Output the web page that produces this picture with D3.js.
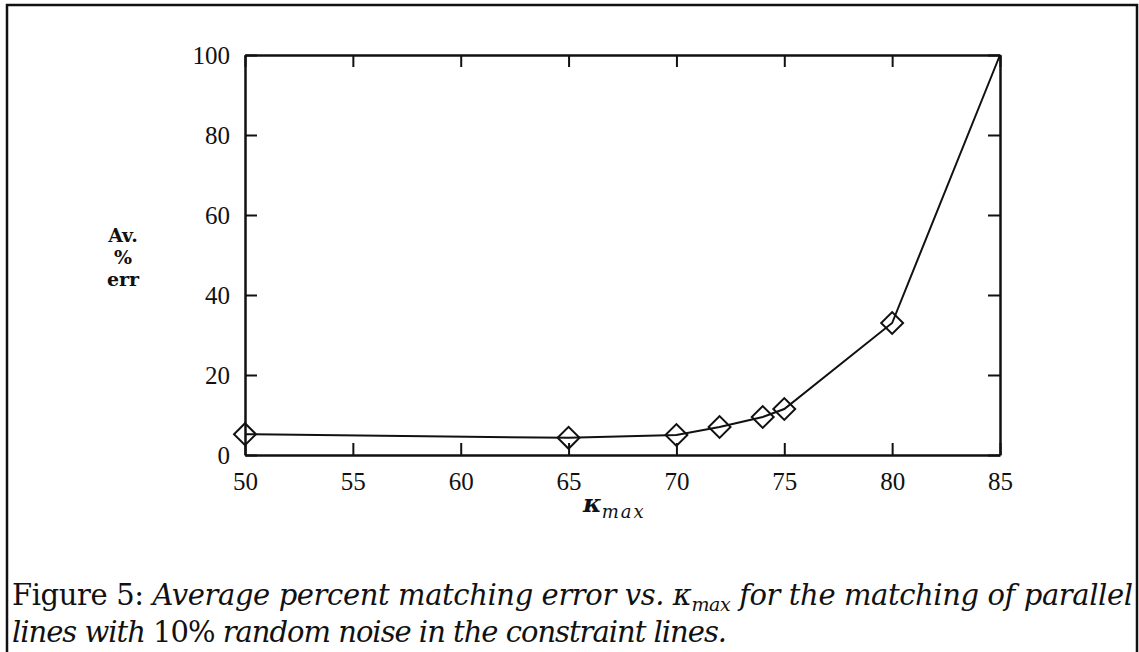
<!DOCTYPE html>
<html>
<head>
<meta charset="utf-8">
<script src="https://cdn.jsdelivr.net/npm/d3@7"></script>
<style>
  body { margin: 0; background: #fff; }
  text { font-family: "DejaVu Serif", "Liberation Serif", serif; fill: #111; }
</style>
</head>
<body>
<div id="visual"></div>
<script>
// kappa_max values and average % matching error
var kappa = [50, 65, 70, 72, 74, 75, 80, 85];
var avgErr = [5.2, 4.3, 5.0, 7.0, 9.5, 11.5, 33.0, 100];
var xTicks = [50, 55, 60, 65, 70, 75, 80, 85];
var yTicks = [0, 20, 40, 60, 80, 100];

var W = 1139, H = 652;
var margin = { top: 55, right: 139, bottom: 197, left: 245 },
    width = W - margin.left - margin.right,
    height = H - margin.top - margin.bottom;

var root = d3.select("#visual").append("svg")
    .attr("width", W)
    .attr("height", H);

// page frame
root.append("path")
    .attr("d", "M7,652 L7,5 L1137,5 L1137,652")
    .attr("fill", "none")
    .attr("stroke", "#111")
    .attr("stroke-width", 2.5);

var svg = root.append("g")
    .attr("transform", "translate(" + margin.left + "," + margin.top + ")");

var x = d3.scaleLinear().domain([50, 85]).range([0, width]);
var y = d3.scaleLinear().domain([0, 100]).range([height, 0]);

var tick = 12;

// axes: labels on bottom/left, inward ticks on all four sides
svg.append("g")
    .attr("transform", "translate(0," + height + ")")
    .call(d3.axisBottom(x).tickValues(xTicks).tickSizeInner(-tick).tickSizeOuter(0).tickPadding(17));
svg.append("g")
    .call(d3.axisTop(x).tickValues(xTicks).tickSizeInner(-tick).tickSizeOuter(0).tickFormat(""));
svg.append("g")
    .call(d3.axisLeft(y).tickValues(yTicks).tickSizeInner(-tick).tickSizeOuter(0).tickPadding(15));
svg.append("g")
    .attr("transform", "translate(" + width + ",0)")
    .call(d3.axisRight(y).tickValues(yTicks).tickSizeInner(-tick).tickSizeOuter(0).tickFormat(""));

svg.selectAll(".domain").attr("stroke", "#111").attr("stroke-width", 2.5);
svg.selectAll(".tick line").attr("stroke", "#111").attr("stroke-width", 2);
svg.selectAll(".tick text")
    .style("font-family", "'Liberation Serif', serif")
    .style("font-size", "25px")
    .attr("fill", "#111");

// data line
var line = d3.line()
    .x(function (d, i) { return x(kappa[i]); })
    .y(function (d) { return y(d); });

svg.append("path")
    .datum(avgErr)
    .attr("d", line)
    .attr("fill", "none")
    .attr("stroke", "#111")
    .attr("stroke-width", 2);

// diamond markers (none drawn at the last point)
var diamond = d3.symbol().type(d3.symbolSquare).size(240);
svg.selectAll(".mark")
    .data(avgErr.slice(0, avgErr.length - 1))
  .enter().append("path")
    .attr("class", "mark")
    .attr("d", diamond)
    .attr("transform", function (d, i) {
        return "translate(" + x(kappa[i]) + "," + y(d) + ") rotate(45)";
    })
    .attr("fill", "none")
    .attr("stroke", "#111")
    .attr("stroke-width", 2);

// axis titles
var xl = root.append("text")
    .attr("x", 583)
    .attr("y", 512)
    .style("font-style", "italic");
xl.append("tspan").style("font-size", "25px").style("font-weight", "bold").text("κ");
xl.append("tspan").attr("dy", 6).style("font-size", "18px")
    .style("letter-spacing", "2px").text("max");

var yl = root.append("g")
    .attr("transform", "translate(123,0)")
    .style("font-weight", "bold")
    .style("font-family", "'Liberation Serif', serif")
    .style("font-size", "19px");
yl.append("text").attr("y", 242).attr("text-anchor", "middle").text("Av.");
yl.append("text").attr("y", 264).attr("text-anchor", "middle").text("%");
yl.append("text").attr("y", 286).attr("text-anchor", "middle").text("err");

// caption
var cap1 = root.append("text")
    .attr("x", 12)
    .attr("y", 605)
    .attr("textLength", 1121)
    .attr("lengthAdjust", "spacing")
    .style("font-size", "29px");
cap1.append("tspan").text("Figure 5:  ");
cap1.append("tspan").style("font-style", "italic").text("Average percent matching error vs.  κ");
cap1.append("tspan").style("font-style", "italic").style("font-size", "19px").attr("dy", 6).text("max");
cap1.append("tspan").style("font-style", "italic").attr("dy", -6).text(" for the matching of parallel");

var cap2 = root.append("text")
    .attr("x", 12)
    .attr("y", 642)
    .attr("textLength", 715)
    .attr("lengthAdjust", "spacing")
    .style("font-size", "29px");
cap2.append("tspan").style("font-style", "italic").text("lines with ");
cap2.append("tspan").text("10%");
cap2.append("tspan").style("font-style", "italic").text(" random noise in the constraint lines.");
</script>
</body>
</html>
